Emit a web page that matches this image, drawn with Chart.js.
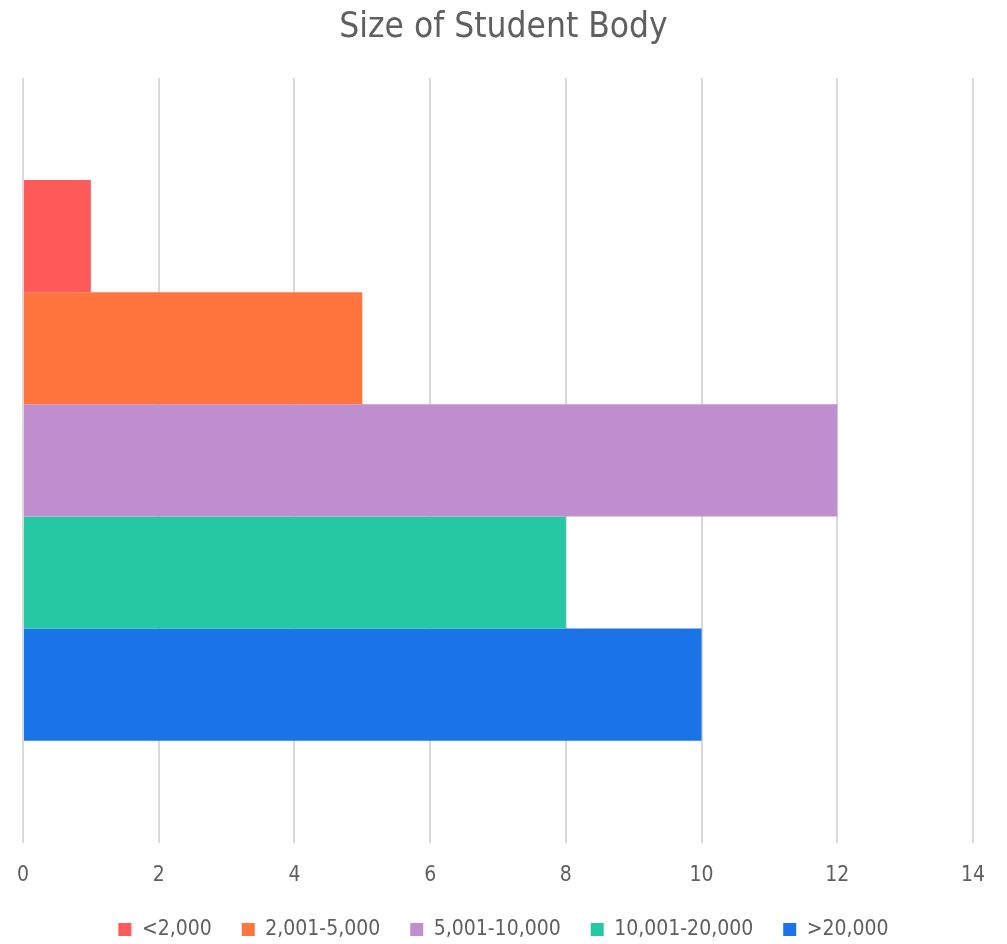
<!DOCTYPE html>
<html>
<head>
<meta charset="utf-8">
<script src="https://cdn.jsdelivr.net/npm/chart.js@4"></script>
<style>
  body { margin: 0; background: #fff; }
  #wrap { width: 1007px; height: 944px; }
</style>
</head>
<body>
<div id="wrap"><canvas id="chart" width="1007" height="944"></canvas></div>
<script>
const categories = ['Size of Student Body'];
const seriesNames = ['<2,000', '2,001-5,000', '5,001-10,000', '10,001-20,000', '>20,000'];
const seriesValues = [1, 5, 12, 8, 10];
const seriesColors = ['#fe5a5a', '#fe753d', '#bf8ecf', '#26c8a4', '#1a74e8'];
const xTicks = [0, 2, 4, 6, 8, 10, 12, 14];

const FONT = "'DejaVu Sans Condensed', 'Liberation Sans Narrow', Roboto, sans-serif";
const GREY = '#5f5f5f';

const ctx = document.getElementById('chart').getContext('2d');
const datasets = seriesNames.map((name, i) => ({
    label: name,
    data: [seriesValues[i]],
    backgroundColor: seriesColors[i],
    borderWidth: 0,
    categoryPercentage: 0.733,
    barPercentage: 1.0
}));

new Chart(ctx, {
    type: 'bar',
    data: { labels: categories, datasets: datasets },
    options: {
        indexAxis: 'y',
        responsive: false,
        animation: false,
        layout: { padding: { left: 0, right: 0, top: 7, bottom: -6 } },
        scales: {
            x: {
                min: 0,
                max: 14,
                afterBuildTicks: axis => { axis.ticks = xTicks.map(v => ({ value: v })); },
                afterFit: axis => {
                    axis.height -= 19;
                    axis.paddingLeft = 23;
                    axis.paddingRight = 34;
                },
                grid: { color: '#d9d9d9', lineWidth: 2, drawTicks: false },
                border: { display: false },
                ticks: { color: GREY, font: { family: FONT, size: 21 }, padding: 20 }
            },
            y: {
                display: false
            }
        },
        plugins: {
            title: {
                display: true,
                text: 'Size of Student Body',
                color: GREY,
                font: { family: FONT, size: 35, weight: 'normal' },
                padding: { top: 0, bottom: 29 }
            },
            legend: {
                position: 'bottom',
                labels: {
                    color: GREY,
                    font: { family: FONT, size: 21 },
                    boxWidth: 13,
                    boxHeight: 13,
                    padding: 30
                }
            },
            tooltip: { enabled: false }
        }
    }
});
</script>
</body>
</html>
